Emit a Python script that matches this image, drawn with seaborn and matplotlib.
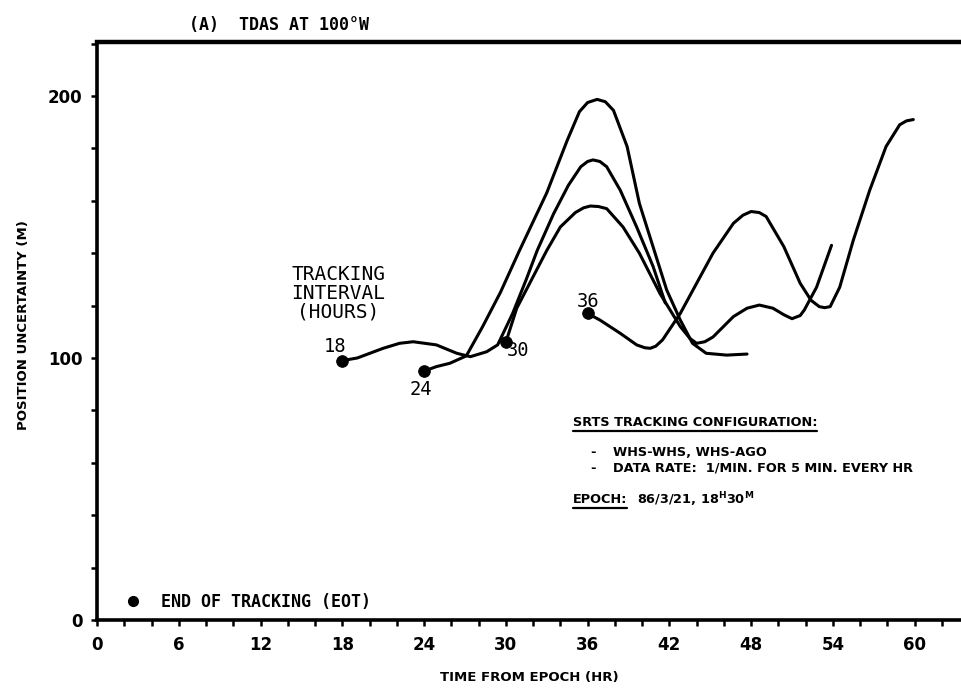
import matplotlib
matplotlib.use("Agg")
import matplotlib.pyplot as plt
import seaborn as sns
import pandas as pd
from matplotlib.ticker import MultipleLocator, FixedLocator
from matplotlib.lines import Line2D

# ---------------- data ----------------
intervals = [18, 24, 30, 36]          # tracking interval (hours) = end of tracking
eot_values = [99, 95, 106, 117]       # position uncertainty at EOT (m)

t18 = [18.0, 19.1, 21.0, 22.2, 23.2, 24.9, 26.4, 27.4, 28.6, 29.4, 30.5, 31.5, 32.3,
       33.5, 34.6, 35.5, 36.0, 36.4, 36.9, 37.4, 38.4, 39.6, 40.8, 41.7]
u18 = [99, 100, 103.7, 105.6, 106.2, 105, 101.8, 100.5, 102.4, 105, 117, 130, 141,
       155, 166, 173, 175, 175.6, 175, 173, 164, 150, 135, 121]

t24 = [24.0, 24.9, 25.9, 27.1, 28.3, 29.6, 31.0, 33.0, 34.5, 35.4, 36.0, 36.7, 37.3,
       37.9, 38.9, 39.8, 40.8, 41.8, 42.8, 43.7, 44.7, 46.2, 47.7]
u24 = [95, 96.7, 98, 100.8, 112, 125, 141, 163, 183, 194, 197.5, 198.7, 197.8,
       194.5, 180.7, 159, 142.5, 126, 114.5, 105.6, 101.8, 101.1, 101.5]

t30 = [30.0, 30.8, 32.0, 33.0, 34.0, 35.1, 35.7, 36.2, 36.8, 37.4, 38.6, 39.8, 41.3, 42.8,
       43.5, 44.0, 44.6, 45.2, 46.7, 47.7, 48.6, 49.6, 50.4, 51.0, 51.6, 51.9, 52.8, 53.9]
u30 = [106, 119, 131, 141, 150, 155.5, 157.3, 158, 157.8, 157, 150, 140, 124.7, 112,
       107.5, 105.6, 106.2, 108, 115.8, 119, 120.2, 119, 116.5, 115, 116.2, 118.3, 127, 143]

t36 = [36.0, 36.9, 38.4, 39.6, 40.2, 40.6, 41.0, 41.5, 42.8, 44.0, 45.2, 46.7, 47.4, 48.0,
       48.6, 49.1, 50.4, 51.6, 52.4, 53.0, 53.4, 53.8, 54.5, 55.5, 56.7, 57.9, 58.9, 59.4, 59.9]
u36 = [117, 114.5, 109.4, 105, 103.9, 103.7, 104.5, 106.9, 117, 128.5, 140, 151.4, 154.5, 155.9,
       155.5, 154, 142.5, 128.5, 122, 119.6, 119.2, 119.6, 127, 145, 164, 180.7, 189, 190.5, 191]

x_ticks = [0, 6, 12, 18, 24, 30, 36, 42, 48, 54, 60]
y_ticks = [0, 100, 200]

# ---------------- build long-form table ----------------
frames = []
for lab, tt, uu in [(18, t18, u18), (24, t24, u24), (30, t30, u30), (36, t36, u36)]:
    frames.append(pd.DataFrame({"time": tt, "unc": uu, "interval": lab}))
df = pd.concat(frames, ignore_index=True)
eot = pd.DataFrame({"time": intervals, "unc": eot_values})

# ---------------- style ----------------
sns.set_theme(style="ticks")
plt.rcParams["font.family"] = ["DejaVu Sans"]
for k in ["text.color", "axes.edgecolor", "axes.labelcolor", "xtick.color", "ytick.color"]:
    plt.rcParams[k] = "black"
plt.rcParams["axes.linewidth"] = 2.6

fig = plt.figure(figsize=(9.61, 6.88), dpi=100)
W, H = 961.0, 688.0
ax = fig.add_axes([97 / W, 1 - 620 / H, (961 - 97) / W, (620 - 42) / H])

sns.lineplot(data=df, x="time", y="unc", hue="interval", units="interval",
             estimator=None, sort=False, palette=["black"] * 4, linewidth=2.2,
             legend=False, ax=ax, solid_joinstyle="round", solid_capstyle="round")
sns.scatterplot(data=eot, x="time", y="unc", color="black", s=70,
                edgecolor="black", zorder=5, ax=ax, legend=False)

ax.set_xlim(0, 63.4)
ax.set_ylim(0, 220.6)
ax.spines["right"].set_visible(False)
ax.spines["top"].set_linewidth(3.2)

ax.xaxis.set_major_locator(FixedLocator(x_ticks))
ax.xaxis.set_minor_locator(MultipleLocator(2))
ax.yaxis.set_major_locator(FixedLocator(y_ticks))
ax.yaxis.set_minor_locator(MultipleLocator(20))
ax.tick_params(axis="both", which="both", direction="out", length=4.5,
               width=1.8, color="black")
ax.tick_params(axis="x", which="major", pad=7)
ax.tick_params(axis="y", which="major", pad=6)
ax.set_xticklabels([str(v) for v in x_ticks], fontsize=12, fontweight="bold")
ax.set_yticklabels([str(v) for v in y_ticks], fontsize=12, fontweight="bold")

ax.set_xlabel("TIME FROM EPOCH (HR)", fontsize=9.5, fontweight="bold")
ax.set_ylabel("POSITION UNCERTAINTY (M)", fontsize=9.5, fontweight="bold")
ax.xaxis.set_label_coords(0.50, (620 - 671) / 578.0)
ax.yaxis.set_label_coords((30 - 97) / 864.0, (620 - 325) / 578.0)

mono = ["DejaVu Sans Mono", "DejaVu Sans"]
ax.text((279 - 97) / 864.0, (620 - 25) / 578.0, "(A)  TDAS AT 100°W",
        transform=ax.transAxes, ha="center", va="center", fontsize=12,
        fontweight="bold", family=mono)

ax.text(17.7, 124.8, "TRACKING\nINTERVAL\n(HOURS)", ha="center", va="center",
        fontsize=14, linespacing=1.0, family=mono)
ax.text(17.5, 104.5, "18", ha="center", va="center", fontsize=13.5, family=mono)
ax.text(23.8, 87.8, "24", ha="center", va="center", fontsize=13.5, family=mono)
ax.text(30.9, 103.0, "30", ha="center", va="center", fontsize=13.5, family=mono)
ax.text(36.0, 121.4, "36", ha="center", va="center", fontsize=13.5, family=mono)

# legend for the EOT marker
h = Line2D([], [], marker="o", ls="none", color="black", markersize=7)
ax.legend([h], ["END OF TRACKING (EOT)"], loc="center left",
          bbox_to_anchor=((124.7 - 97) / 864.0, (620 - 602) / 578.0),
          frameon=False, borderaxespad=0, borderpad=0, handlelength=1.0,
          handletextpad=1.2, prop={"family": mono, "weight": "bold", "size": 12})

# configuration block
cfg_kw = dict(fontsize=9.3, fontweight="bold", va="center", ha="left")
hdr = ax.text(34.9, 75.2, "SRTS TRACKING CONFIGURATION:", **cfg_kw)
ax.text(36.2, 64.1, "-", **cfg_kw)
ax.text(37.9, 64.1, "WHS-WHS, WHS-AGO", **cfg_kw)
ax.text(36.2, 58.0, "-", **cfg_kw)
ax.text(37.9, 58.0, "DATA RATE:  1/MIN. FOR 5 MIN. EVERY HR", **cfg_kw)
ep = ax.text(34.9, 45.8, "EPOCH:", **cfg_kw)
ax.text(39.6, 45.8, r"86/3/21, 18$^{\mathbf{H}}$30$^{\mathbf{M}}$", **cfg_kw)

fig.canvas.draw()
r = fig.canvas.get_renderer()
inv = fig.transFigure.inverted()
for t in (hdr, ep):
    bb = t.get_window_extent(r)
    (x0, y0), (x1, _) = inv.transform([(bb.x0, bb.y0 - 1.5), (bb.x1, bb.y0 - 1.5)])
    fig.add_artist(Line2D([x0, x1], [y0, y0], transform=fig.transFigure,
                          color="black", lw=1.6))

fig.savefig("out.png", dpi=100)
